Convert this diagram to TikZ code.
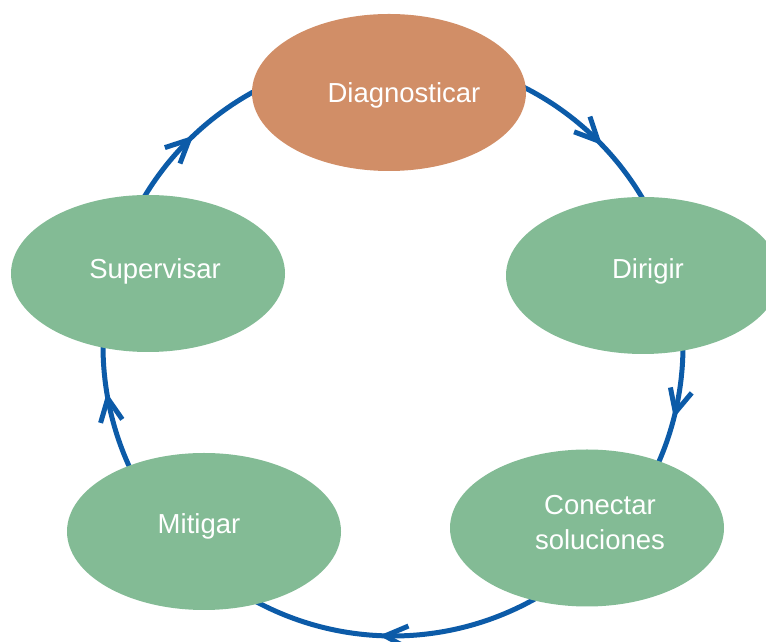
\documentclass[tikz,border=0pt]{standalone}
\usepackage{fontspec}
\setmainfont{Liberation Sans}
\usetikzlibrary{shapes.geometric,arrows.meta,decorations.markings}
\definecolor{diagfill}{RGB}{209,142,103}
\definecolor{stepfill}{RGB}{131,187,149}
\definecolor{cycleblue}{RGB}{12,91,168}
\tikzset{
  phase/.style={ellipse, draw=none, fill=stepfill, minimum width=274pt, minimum height=157pt, inner sep=0pt},
  phasetext/.style={text=white, font=\fontsize{27.5}{35}\selectfont, align=center, inner sep=0pt},
  flow/.style={draw=cycleblue, line width=5pt},
  flowmark/.style={postaction={decorate}, decoration={markings, mark=at position #1 with {\arrow{Straight Barb[length=23pt,width=22pt]}}}}
}
\begin{document}
\begin{tikzpicture}[x=1pt,y=1pt]
\useasboundingbox (0,0) rectangle (766,642);
\clip (0,0) rectangle (766,642);
\coordinate (c) at (393,296);
% arc end points on the cycle
\coordinate (s1) at ([shift={(64.6:290)}]c);
\coordinate (s2) at ([shift={(0.4:290)}]c);
\coordinate (s3) at ([shift={(-59.1:290)}]c);
\coordinate (s4) at ([shift={(-154.3:290)}]c);
\coordinate (s5) at ([shift={(151:290)}]c);
% connectors (drawn first, ellipses cover their ends)
\draw[flow, flowmark=0.585] (s1) arc[start angle=64.6, end angle=29.2, radius=290pt];
\draw[flow, flowmark=0.58] (s2) arc[start angle=0.4, end angle=-25.1, radius=290pt];
\draw[flow, flowmark=0.555] (s3) arc[start angle=-59.1, end angle=-119.7, radius=290pt];
\draw[flow, flowmark=0.62] (s4) arc[start angle=-154.3, end angle=-180.8, radius=290pt];
\draw[flow, flowmark=0.52] (s5) arc[start angle=151, end angle=117.4, radius=290pt];
% phases
\node[phase, fill=diagfill, label={[phasetext, xshift=15pt, yshift=-3pt]center:Diagnosticar}] (D) at (389,549.5) {};
\node[phase, label={[phasetext, xshift=5pt, yshift=4pt]center:Dirigir}] (R) at (643,366.5) {};
\node[phase, label={[phasetext, xshift=13pt, yshift=5.5pt]center:{Conectar\\soluciones}}] (C) at (587,114) {};
\node[phase, label={[phasetext, xshift=-5pt, yshift=5pt]center:Mitigar}] (M) at (204,110.5) {};
\node[phase, label={[phasetext, xshift=7pt, yshift=2.5pt]center:Supervisar}] (S) at (148,368.5) {};
\end{tikzpicture}
\end{document}
